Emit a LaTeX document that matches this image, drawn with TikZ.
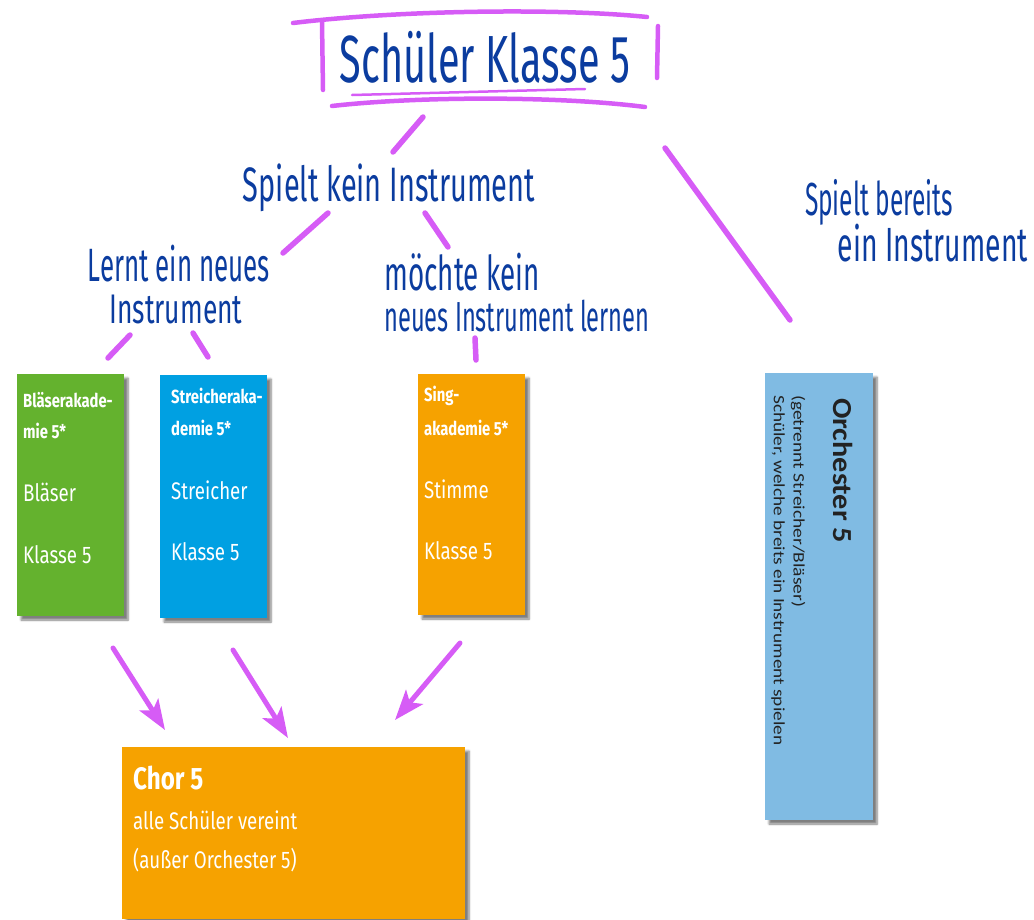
\documentclass[tikz,border=0pt]{standalone}
\usepackage{fontspec}
\setmainfont{Fira Sans}
\newfontfamily\boxfont[FakeStretch=0.78]{Fira Sans}
\newfontfamily\orchfont[FakeStretch=1.22]{Carlito}
\newfontfamily\orchbold[FakeStretch=1.1]{Carlito Bold}
\newfontfamily\handfont{Fira Sans}
\usetikzlibrary{shadows.blur,arrows.meta}
\definecolor{pinkline}{HTML}{D65CF6}
\definecolor{handblue}{HTML}{0B3C9F}
\definecolor{cgreen}{HTML}{64B22E}
\definecolor{cblue}{HTML}{00A0E2}
\definecolor{corange}{HTML}{F6A200}
\definecolor{clight}{HTML}{80BBE3}
\definecolor{orchtext}{HTML}{222222}
\tikzset{
  hand/.style={inner sep=0pt, text=handblue, font=\handfont},
  stroke/.style={draw=pinkline, line width=5.5pt, line cap=round},
  frameline/.style={draw=pinkline, line width=4.5pt, line cap=round},
  arr/.style={draw=pinkline, fill=pinkline, line width=5pt, line cap=round,
    -{Stealth[length=30pt,width=22pt,inset=7pt]}},
  card/.style={anchor=north west, inner sep=0pt, outer sep=0pt,
    blur shadow={shadow xshift=4pt, shadow yshift=-4pt, shadow blur steps=6, shadow opacity=50}},
  head/.style={anchor=west, inner sep=0pt, text=white, font=\boxfont\bfseries\fontsize{19}{21}\selectfont},
  body/.style={anchor=west, inner sep=0pt, text=white, font=\boxfont\fontsize{24}{27}\selectfont},
  orch/.style={anchor=west, rotate=-90, inner sep=0pt, text=orchtext, font=\orchfont\fontsize{16}{18}\selectfont}
}
\begin{document}
\begin{tikzpicture}[x=1pt,y=-1pt]
\useasboundingbox (0,0) rectangle (1034,919);

% ---- title frame (hand drawn)
\draw[frameline] (293,23) .. controls (400,10) and (560,8) .. (647,17);
\draw[frameline] (322,22) -- (323,90);
\draw[frameline] (658,26) -- (657,78);
\draw[frameline] (332,106) .. controls (420,96) and (560,96) .. (645,107);
\draw[draw=pinkline, line width=2.5pt, line cap=round] (352,95) -- (585,89);

% ---- handwritten labels
\node[hand] (title) at (485,57) {\resizebox*{290pt}{52pt}{Schüler Klasse 5}};
\node[hand] (spielt) at (389,188) {\resizebox*{292pt}{48pt}{Spielt kein Instrument}};
\node[hand] (lernt1) at (179,264) {\resizebox*{182pt}{37pt}{Lernt ein neues}};
\node[hand] (lernt2) at (176,309) {\resizebox*{133pt}{29pt}{Instrument}};
\node[hand] (moechte1) at (462,272) {\resizebox*{155pt}{38pt}{möchte kein}};
\node[hand] (moechte2) at (517,316) {\resizebox*{265pt}{32pt}{neues Instrument lernen}};
\node[hand] (bereits1) at (879,202) {\resizebox*{148pt}{46pt}{Spielt bereits}};
\node[hand] (bereits2) at (933,243) {\resizebox*{190pt}{38pt}{ein Instrument}};

% ---- cards
\node[card, fill=cgreen, minimum width=107pt, minimum height=242pt] (blaeser) at (17,374) {};
\node[card, fill=cblue, minimum width=107pt, minimum height=243pt] (streicher) at (160,375) {};
\node[card, fill=corange, minimum width=107pt, minimum height=241pt] (sing) at (418,374) {};
\node[card, fill=clight, minimum width=108pt, minimum height=447pt] (orchester) at (765,373) {};
\node[card, fill=corange, minimum width=343pt, minimum height=172pt] (chor) at (122,747) {};

% green card text
\node[head] (g1) at (23,400) {Bläserakade-};
\node[head] (g2) at (23,431) {mie 5*};
\node[body] (g3) at (23,492) {Bläser};
\node[body] (g4) at (23,555) {Klasse 5};
% blue card text
\node[head] (b1) at (171,396) {Streicheraka-};
\node[head] (b2) at (171,428) {demie 5*};
\node[body] (b3) at (171,490) {Streicher};
\node[body] (b4) at (171,552) {Klasse 5};
% orange card text
\node[head] (s1) at (424,396) {Sing-};
\node[head] (s2) at (424,428) {akademie 5*};
\node[body] (s3) at (424,489) {Stimme};
\node[body] (s4) at (424,551) {Klasse 5};
% chor text
\node[anchor=west, inner sep=0pt, text=white, font=\boxfont\bfseries\fontsize{31}{34}\selectfont] (c1) at (133,778) {Chor 5};
\node[body] (c2) at (133,820) {alle Schüler vereint};
\node[body] (c3) at (133,860) {(außer Orchester 5)};
% orchester text
\node[orch, font=\orchbold\fontsize{27.5}{30}\selectfont] (o1) at (843,398) {Orchester 5};
\node[orch] (o2) at (798,395) {(getrennt Streicher/Bläser)};
\node[orch, font=\orchfont\fontsize{15.8}{18}\selectfont] (o3) at (778,395) {Schüler, welche breits ein Instrument spielen};

% ---- connector end points
\coordinate (t1a) at (423,117); \coordinate (t1b) at (393,152);
\coordinate (s1a) at (328,213); \coordinate (s1b) at (283,253);
\coordinate (s2a) at (425,213); \coordinate (s2b) at (448,247);
\coordinate (l1a) at (130,335); \coordinate (l1b) at (108,358);
\coordinate (l2a) at (193,333); \coordinate (l2b) at (208,357);
\coordinate (m1a) at (475,338); \coordinate (m1b) at (476,360);
\coordinate (o1a) at (665,148); \coordinate (o1b) at (790,320);
\coordinate (a1s) at (113,648); \coordinate (a1e) at (165,730);
\coordinate (a2s) at (233,650); \coordinate (a2e) at (288,738);
\coordinate (a3s) at (460,643); \coordinate (a3e) at (395,720);

\draw[stroke] (t1a) -- (t1b);
\draw[stroke] (s1a) -- (s1b);
\draw[stroke] (s2a) -- (s2b);
\draw[stroke] (l1a) -- (l1b);
\draw[stroke] (l2a) -- (l2b);
\draw[stroke] (m1a) -- (m1b);
\draw[stroke] (o1a) -- (o1b);

\draw[arr] (a1s) -- (a1e);
\draw[arr] (a2s) -- (a2e);
\draw[arr] (a3s) -- (a3e);
\end{tikzpicture}
\end{document}
